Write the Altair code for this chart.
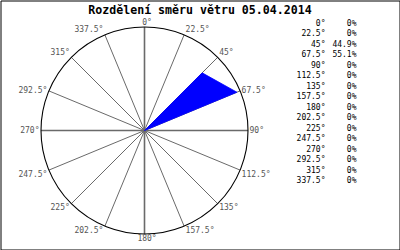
import altair as alt
import pandas as pd

TITLE = "Rozdělení směru větru 05.04.2014"
directions = [0, 22.5, 45, 67.5, 90, 112.5, 135, 157.5, 180, 202.5, 225, 247.5, 270, 292.5, 315, 337.5]
shares = [0, 0, 44.9, 55.1, 0, 0, 0, 0, 0, 0, 0, 0, 0, 0, 0, 0]
dir_labels = [f"{d:g}°" for d in directions]
share_labels = [f"{s:g}%" for s in shares]

# layout (pixel-like scale units)
W, H = 400, 250
CX, CY, R = 144, 130, 103.5
RADIAL_MAX = 57.0
TAB_DEG_X, TAB_PCT_X, TAB_Y0, TAB_DY = 325, 356, 23, 10.5
FONT = "DejaVu Sans Mono"

df = pd.DataFrame({
    "dir": directions,
    "share": shares,
    "dlabel": dir_labels,
    "slabel": share_labels,
    "row": list(range(len(directions))),
})


def X(f):
    return alt.X(f, type="quantitative", scale=alt.Scale(domain=[0, W - 1]), axis=None)


def Y(f):
    return alt.Y(f, type="quantitative", scale=alt.Scale(domain=[0, H - 1], reverse=True), axis=None)


geo = alt.Chart(df).transform_calculate(
    rad="datum.dir * PI / 180",
    cx=str(CX),
    cy=str(CY),
    ex=f"{CX} + {R} * sin(datum.rad)",
    ey=f"{CY} - {R} * cos(datum.rad)",
    main="datum.dir % 90 == 0",
)

spokes_minor = geo.transform_filter("!datum.main").mark_rule(color="#6a6a6a", strokeWidth=1).encode(
    x=X("cx"), y=Y("cy"), x2=alt.X2("ex"), y2=alt.Y2("ey")
)
spokes_major = geo.transform_filter("datum.main").mark_rule(color="#6a6a6a", strokeWidth=1.6).encode(
    x=X("cx"), y=Y("cy"), x2=alt.X2("ex"), y2=alt.Y2("ey")
)

polygon = geo.transform_calculate(
    pr=f"{R} * datum.share / {RADIAL_MAX}",
    px=f"{CX} + datum.pr * sin(datum.rad)",
    py=f"{CY} - datum.pr * cos(datum.rad)",
).mark_line(fill="#0000ff", stroke="#0000ff", strokeWidth=0.8).encode(
    x=X("px"), y=Y("py"), order=alt.Order("dir:Q")
)

circle = alt.Chart(pd.DataFrame({"k": [0]})).transform_calculate(
    cx=str(CX), cy=str(CY)
).mark_point(shape="circle", size=(2 * R) ** 2, filled=False, color="black", strokeWidth=1.1, opacity=1).encode(
    x=X("cx"), y=Y("cy")
)

lab = geo.transform_calculate(
    ly="datum.ey + (cos(datum.rad) > 0.5 ? -4.5 : (cos(datum.rad) < -0.1 ? 4.5 : 0))",
    s="sin(datum.rad)",
)
lab_kw = dict(font=FONT, fontSize=8, color="#555555", baseline="middle")
labels_right = lab.transform_filter("datum.s > 0.01").transform_calculate(
    lx="datum.ex + 1.5"
).mark_text(align="left", **lab_kw).encode(x=X("lx"), y=Y("ly"), text="dlabel:N")
labels_left = lab.transform_filter("datum.s < -0.01").transform_calculate(
    lx="datum.ex - 1.5"
).mark_text(align="right", **lab_kw).encode(x=X("lx"), y=Y("ly"), text="dlabel:N")
labels_mid = lab.transform_filter("abs(datum.s) <= 0.01").transform_calculate(
    lx="datum.ex + 2.5"
).mark_text(align="center", **lab_kw).encode(x=X("lx"), y=Y("ly"), text="dlabel:N")

tab = alt.Chart(df).transform_calculate(
    ty=f"{TAB_Y0} + datum.row * {TAB_DY}",
    tx1=str(TAB_DEG_X),
    tx2=str(TAB_PCT_X),
)
tab_kw = dict(font=FONT, fontSize=8, color="black", baseline="middle", align="right")
tab_deg = tab.mark_text(**tab_kw).encode(x=X("tx1"), y=Y("ty"), text="dlabel:N")
tab_pct = tab.mark_text(**tab_kw).encode(x=X("tx2"), y=Y("ty"), text="slabel:N")

title = alt.Chart(pd.DataFrame({"t": [TITLE]})).mark_text(
    font=FONT, fontSize=11.6, fontWeight="bold", color="black", align="center", baseline="alphabetic"
).encode(text="t:N", x=alt.value(W / 2 - 0.5), y=alt.value(13))

chart = alt.layer(
    spokes_minor, spokes_major, polygon, circle,
    labels_right, labels_left, labels_mid,
    tab_deg, tab_pct, title,
).properties(
    width=W - 1, height=H - 1, padding=0.5, autosize="none", background="white"
).configure_view(stroke="black", strokeWidth=1)

chart.save("out.html", embed_options={"renderer": "svg", "actions": False})
